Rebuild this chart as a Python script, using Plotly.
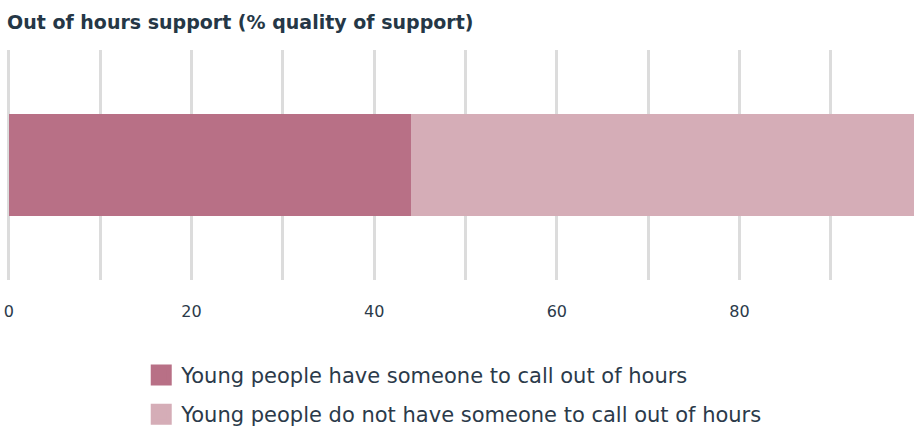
import plotly.graph_objects as go

category = ["Out of hours support"]
series_names = ["Young people have someone to call out of hours",
                "Young people do not have someone to call out of hours"]
series_values = [[44], [56]]
colors = ["#b87086", "#d5adb7"]
tick_vals = [0, 10, 20, 30, 40, 50, 60, 70, 80, 90]
tick_text = ["0", "", "20", "", "40", "", "60", "", "80", ""]

FONT = "DejaVu Sans"
TEXT = "#2b3a4a"

fig = go.Figure()
for i, (name, vals) in enumerate(zip(series_names, series_values)):
    fig.add_trace(go.Bar(
        x=vals, y=category, orientation="h", name=name,
        marker=dict(color=colors[i], line=dict(width=0)),
        showlegend=False, hoverinfo="x+name"))
for i, name in enumerate(series_names):
    fig.add_trace(go.Scatter(
        x=[None], y=[None], mode="markers", name=name, legendgroup=str(i),
        marker=dict(symbol="square", size=16, color=colors[i],
                    line=dict(width=5, color=colors[i]))))

fig.update_layout(
    width=914, height=430,
    margin=dict(l=7, r=0, t=50, b=150, autoexpand=False),
    paper_bgcolor="white", plot_bgcolor="white",
    barmode="stack", bargap=0.553,
    title=dict(text="<b>Out of hours support (% quality of support)</b>",
               x=7 / 914, xref="container", xanchor="left", y=0.947,
               yref="container", yanchor="middle",
               font=dict(family=FONT, size=19, color="#253746")),
    font=dict(family=FONT, color=TEXT),
    xaxis=dict(range=[-0.2, 99.1], tickvals=tick_vals, ticktext=tick_text,
               showgrid=True, gridcolor="#dcdcdc", gridwidth=3,
               zeroline=False, showline=False, ticklabeloverflow="allow",
               ticks="outside", ticklen=17, tickcolor="rgba(0,0,0,0)",
               tickfont=dict(family=FONT, size=16, color=TEXT)),
    yaxis=dict(showticklabels=False, showgrid=False, zeroline=False,
               range=[-0.5, 0.5]),
    legend=dict(orientation="v", x=0.148, xanchor="left", y=-0.325,
                yanchor="top", font=dict(family=FONT, size=21, color=TEXT),
                tracegroupgap=9, itemsizing="trace"),
)

fig.write_html("out.html")
